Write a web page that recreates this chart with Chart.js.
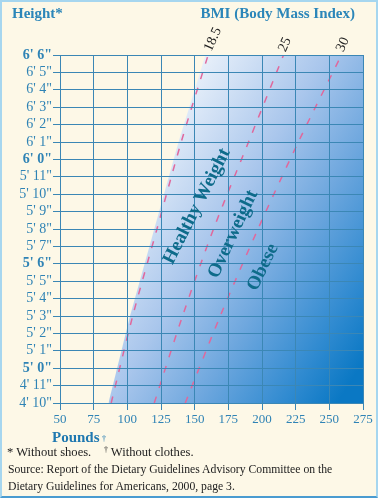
<!DOCTYPE html>
<html>
<head>
<meta charset="utf-8">
<script src="https://cdn.jsdelivr.net/npm/chart.js@4.4.1/dist/chart.umd.min.js"></script>
<style>
  html, body { margin:0; padding:0; background:#fdf8e7; }
  #wrap { position:relative; width:378px; height:498px; background:#fdf8e7; overflow:hidden;
          font-family:"Liberation Serif", "Times New Roman", serif; }
  #frame { position:absolute; left:0; top:0; width:378px; height:498px; box-sizing:border-box;
           border:2px solid #a6d6ef; border-bottom:2px solid #4a9bd0; pointer-events:none; }
  #cv { position:absolute; left:0; top:0; width:378px; height:498px; }
  .hdr { position:absolute; top:5px; font-weight:bold; font-size:15px; color:#2b86b9; white-space:nowrap; }
  .note { position:absolute; left:7px; font-size:11.7px; color:#222; white-space:nowrap; }
  sup { font-size:8px; vertical-align:4px; }
</style>
</head>
<body>
<div id="wrap">
  <div id="cv"><canvas id="chart"></canvas></div>
  <div class="hdr" style="left:12px;">Height*</div>
  <div class="hdr" style="right:23px;">BMI (Body Mass Index)</div>
  <div style="position:absolute; left:52px; top:429px; font-weight:bold; font-size:15px; color:#1f78b0; white-space:nowrap;">Pounds<span style="font-size:9px; font-weight:normal; vertical-align:1px;"> †</span></div>
  <div class="note" style="top:445px; font-size:12.6px;">* Without shoes. &nbsp;&nbsp;&nbsp;<sup>†</sup> Without clothes.</div>
  <div class="note" style="top:463px; left:8px;">Source: Report of the Dietary Guidelines Advisory Committee on the</div>
  <div class="note" style="top:480px; left:8px;">Dietary Guidelines for Americans, 2000, page 3.</div>
  <div id="frame"></div>
</div>
<script>
// ---- data ----
const heights = [58, 63, 68, 73, 78];            // inches
const bmi185 = [88, 104, 122, 140, 160];         // pounds on BMI 18.5 line
const bmi25  = [120, 141, 164, 190, 216];        // pounds on BMI 25 line
const bmi30  = [143, 169, 197, 227, 259];        // pounds on BMI 30 line
const xTickValues = [50, 75, 100, 125, 150, 175, 200, 225, 250, 275];
const yTickLabels = ["4' 10\"", "4' 11\"", "5' 0\"", "5' 1\"", "5' 2\"", "5' 3\"", "5' 4\"", "5' 5\"",
                     "5' 6\"", "5' 7\"", "5' 8\"", "5' 9\"", "5' 10\"", "5' 11\"", "6' 0\"", "6' 1\"",
                     "6' 2\"", "6' 3\"", "6' 4\"", "6' 5\"", "6' 6\""];
const boldTickLabels = ["6' 6\"", "6' 0\"", "5' 6\"", "5' 0\""];
const bmiLabels = ["18.5", "25", "30"];
const zoneLabels = ["Healthy Weight", "Overweight", "Obese"];

const pts = arr => heights.map((h, i) => ({ x: arr[i], y: h }));
const xMin = xTickValues[0], xMax = xTickValues[xTickValues.length - 1];
const yMin = heights[0], yMax = heights[heights.length - 1];

const fillPts = pts(bmi185).map(p => ({ x: p.x - 2, y: p.y })).concat([{ x: xMax, y: yMax }]);

const gridColor = '#3b87b5';
const serif = '"Liberation Serif", "Times New Roman", serif';

function gradientFill(context) {
  const chart = context.chart;
  const ca = chart.chartArea;
  if (!ca) return 'rgba(100,160,220,0.5)';
  const w = ca.right - ca.left, h = ca.bottom - ca.top;
  const g = chart.ctx.createLinearGradient(ca.left + 0.48 * w, ca.top, ca.left + 1.31 * w, ca.top + 0.454 * h);
  g.addColorStop(0, '#e8f0fa');
  g.addColorStop(0.35, '#a9c6ec');
  g.addColorStop(0.6, '#6ea7de');
  g.addColorStop(0.85, '#2f8ad0');
  g.addColorStop(1, '#0a78c4');
  return g;
}

const labelPlugin = {
  id: 'labels',
  afterDraw(chart) {
    const { ctx, scales: { x, y } } = chart;
    const place = [
      // [text, xData, yData, angleDeg, font, color]
      [bmiLabels[0], 163.6, 78.9, -66, '14px ' + serif, '#222'],
      [bmiLabels[1], 217, 78.6, -66, '14px ' + serif, '#222'],
      [bmiLabels[2], 260, 78.6, -66, '14px ' + serif, '#222'],
      [zoneLabels[0], 151.7, 69.3, -63, 'bold 19px ' + serif, '#0e6b8a'],
      [zoneLabels[1], 178.5, 67.7, -65, 'bold 19px ' + serif, '#0e6b8a'],
      [zoneLabels[2], 200.7, 65.8, -64, 'bold 19px ' + serif, '#0e6b8a'],
    ];
    ctx.save();
    place.forEach(([t, xv, yv, ang, font, col]) => {
      ctx.save();
      ctx.translate(x.getPixelForValue(xv), y.getPixelForValue(yv));
      ctx.rotate(ang * Math.PI / 180);
      ctx.font = font;
      ctx.fillStyle = col;
      ctx.textAlign = 'center';
      ctx.textBaseline = 'middle';
      ctx.fillText(t, 0, 0);
      ctx.restore();
    });
    ctx.restore();
  }
};

const dashed = (arr) => ({
  data: pts(arr),
  showLine: true,
  borderColor: '#e0689c',
  borderWidth: 1.5,
  borderDash: [7, 9],
  pointRadius: 0,
  fill: false,
  tension: 0.3,
  order: 0
});

new Chart(document.getElementById('chart'), {
  type: 'scatter',
  data: {
    datasets: [
      {
        data: fillPts,
        showLine: true,
        borderWidth: 0,
        borderColor: 'rgba(0,0,0,0)',
        pointRadius: 0,
        backgroundColor: gradientFill,
        fill: { value: yMin },
        tension: 0,
        order: 5
      },
      dashed(bmi185),
      dashed(bmi25),
      dashed(bmi30)
    ]
  },
  options: {
    responsive: true,
    maintainAspectRatio: false,
    animation: false,
    events: [],
    layout: { padding: { left: 0, top: 55, right: 15, bottom: 65 } },
    plugins: { legend: { display: false }, tooltip: { enabled: false }, title: { display: false } },
    scales: {
      x: {
        type: 'linear', min: xMin, max: xMax,
        afterFit: s => { s.height = 30; },
        afterBuildTicks: s => { s.ticks = xTickValues.map(v => ({ value: v })); },
        grid: { color: gridColor, lineWidth: 1, tickLength: 7, z: 1 },
        border: { display: true, color: gridColor, width: 1, z: 2 },
        ticks: { color: '#2f83b5', padding: 2, font: { family: serif, size: 13 }, maxRotation: 0, autoSkip: false }
      },
      y: {
        type: 'linear', min: yMin, max: yMax,
        afterFit: s => { s.width = 60; },
        grid: { color: gridColor, lineWidth: 1, tickLength: 7, z: 1 },
        border: { display: true, color: gridColor, width: 1, z: 2 },
        ticks: {
          stepSize: 1,
          autoSkip: false,
          color: '#2f83b5',
          padding: 1,
          callback: v => yTickLabels[v - yMin],
          font: ctx => {
            const lab = ctx.tick ? yTickLabels[ctx.tick.value - yMin] : '';
            return { family: serif, size: 14, weight: boldTickLabels.includes(lab) ? 'bold' : 'normal' };
          }
        }
      }
    }
  },
  plugins: [labelPlugin]
});
</script>
</body>
</html>
